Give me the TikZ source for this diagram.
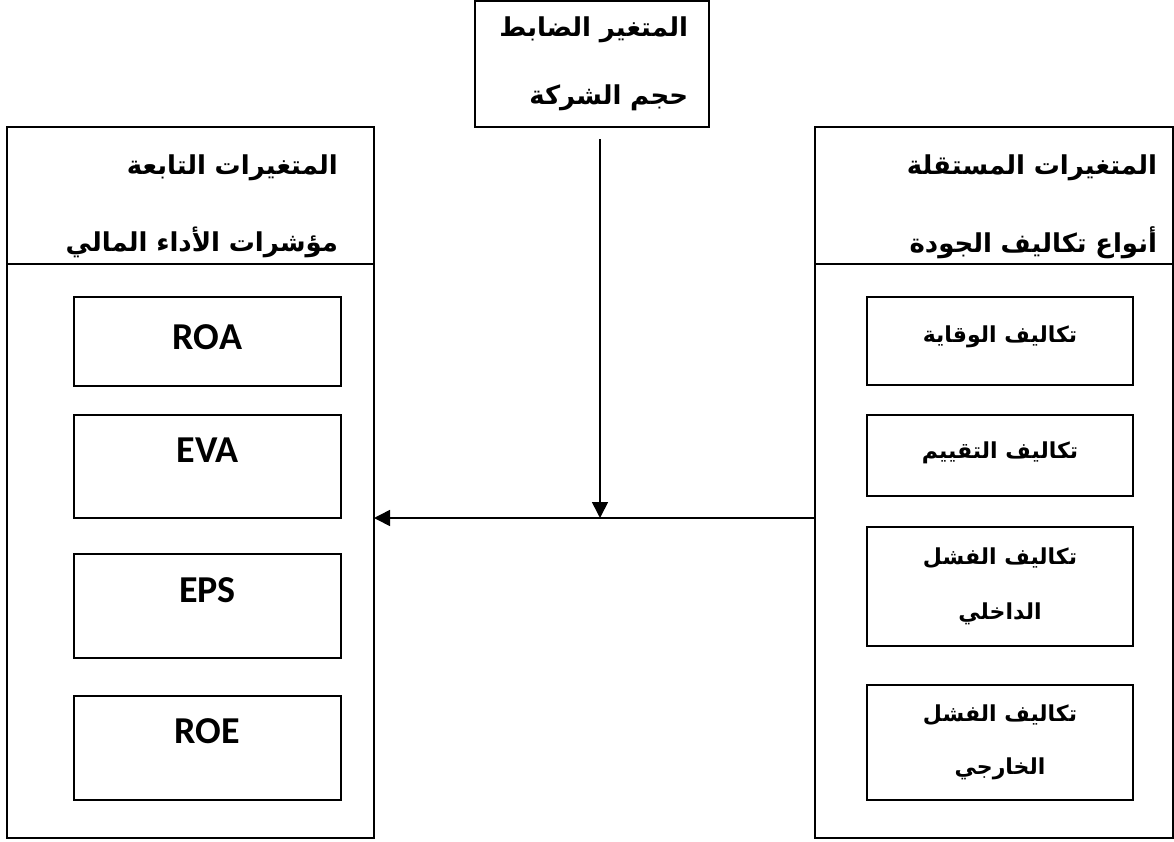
\documentclass[tikz,border=0pt]{standalone}
\usepackage{fontspec}
\usetikzlibrary{positioning,arrows.meta}
\TeXXeTstate=1
\newfontfamily\arabicfont[Script=Arabic]{DejaVu Sans}
\newfontfamily\latinfont{Carlito}

\begin{document}
\begin{tikzpicture}[
    > = {Triangle[length=16pt,width=16pt]}, % arrow head style
    x = 1pt, y = -1pt, % measured like the page, y runs down
    line width = 1.6pt
]

 \tikzstyle{header} = [
     draw = black,
     outer sep = 0pt,
     inner ysep = 0pt,
     minimum height = 137pt,
     align = right,
     font = \arabicfont\bfseries\fontsize{26}{30}\selectfont
 ]
 \tikzstyle{body} = [
     draw = black,
     outer sep = 0pt,
     minimum height = 574pt
 ]
 \tikzstyle{metric} = [
     draw = black,
     outer sep = 0pt,
     minimum width = 267pt,
     font = \latinfont\bfseries\fontsize{38}{40}\selectfont
 ]
 \tikzstyle{cost} = [
     draw = black,
     outer sep = 0pt,
     minimum width = 266pt,
     align = center,
     font = \arabicfont\bfseries\fontsize{22}{26}\selectfont
 ]

 \useasboundingbox (0,0) rectangle (1174,841);

 % control variable
 \node[header, text width=192pt, inner xsep=21pt, minimum height=126pt] (ctrl) at (592,64)
     {\beginR المتغير الضابط\endR\\[38pt]\beginR حجم الشركة\endR};

 % dependent side
 \node[header, text width=295pt, inner xsep=36pt] (dephead) at (190.5,195.5)
     {\rule{0pt}{42pt}\beginR المتغيرات التابعة\endR\\[45pt]\beginR مؤشرات الأداء المالي\endR};
 \node[body, minimum width=367pt, below=0pt of dephead] (depbody) {};
 \node[metric, minimum height=89pt, text depth=8pt] (roa) at (207.5,341.5) {ROA};
 \node[metric, minimum height=103pt, text depth=32pt] (eva) [below=29pt of roa] {EVA};
 \node[metric, minimum height=104pt, text depth=32pt] (eps) [below=36pt of eva] {EPS};
 \node[metric, minimum height=104pt, text depth=34pt] (roe) [below=38pt of eps] {ROE};

 % independent side
 \node[header, text width=326pt, inner xsep=16pt] (indhead) at (994,195.5)
     {\rule{0pt}{42pt}\beginR المتغيرات المستقلة\endR\\[45pt]\beginR أنواع تكاليف الجودة\endR};
 \node[body, minimum width=358pt, below=0pt of indhead] (indbody) {};
 \node[cost, minimum height=88pt, text depth=14pt] (prev) at (1000,341) {\beginR تكاليف الوقاية\endR};
 \node[cost, minimum height=81pt, text depth=10pt] (appr) [below=30pt of prev] {\beginR تكاليف التقييم\endR};
 \node[cost, minimum height=119pt] (intf) [below=31pt of appr]
     {\beginR تكاليف الفشل\endR\\[29pt]\beginR الداخلي\endR};
 \node[cost, minimum height=115pt] (extf) [below=39pt of intf]
     {\beginR تكاليف الفشل\endR\\[27pt]\beginR الخارجي\endR};

 % connectors
 \coordinate (joint) at (600,518);
 \draw[->, shorten <=12pt] (ctrl.south -| joint) -- (joint);
 \draw[->] (indbody.west |- joint) -- (depbody.east |- joint);
\end{tikzpicture}
\end{document}
